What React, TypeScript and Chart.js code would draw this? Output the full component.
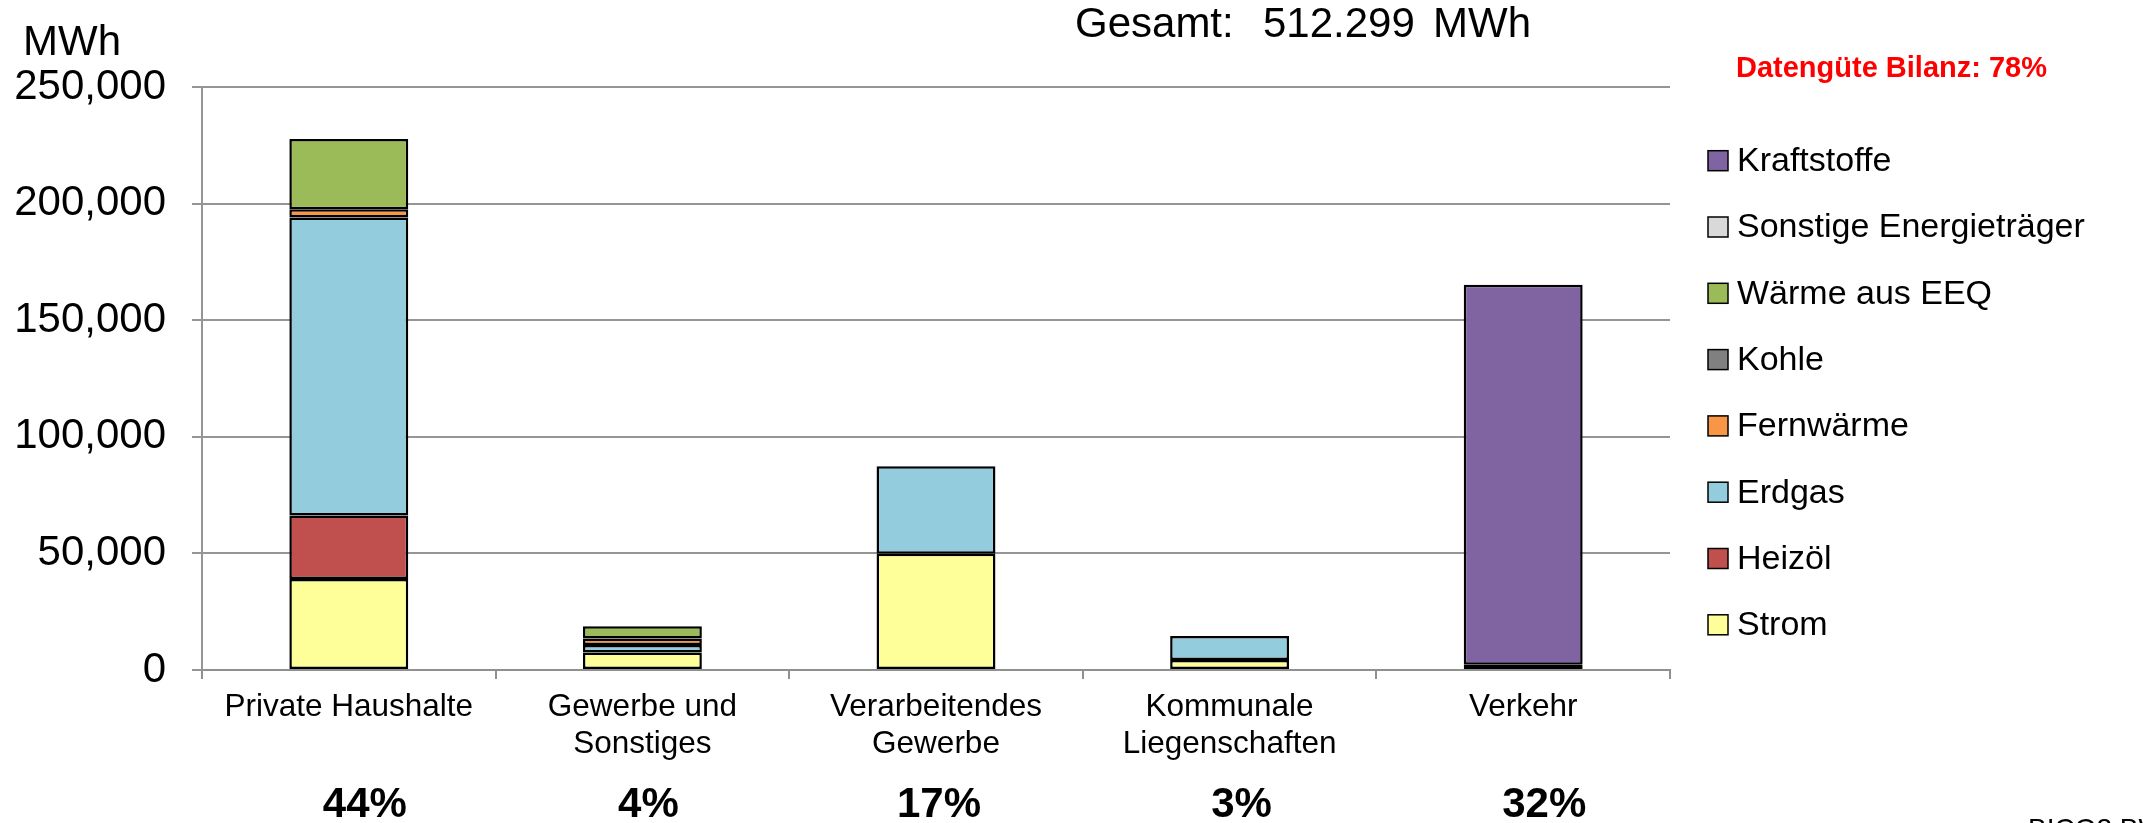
import React, { useEffect, useRef } from "react";
import { Chart, registerables } from "chart.js";

Chart.register(...registerables);

const categories: (string | string[])[] = [
  "Private Haushalte",
  ["Gewerbe und", "Sonstiges"],
  ["Verarbeitendes", "Gewerbe"],
  ["Kommunale", "Liegenschaften"],
  "Verkehr",
];
const percentLabels = ["44%", "4%", "17%", "3%", "32%"];

const strom = [39000, 7500, 49900, 4300, 2200];
const heizoel = [27200, null, null, null, null];
const erdgas = [127800, 3200, 37500, 10300, null];
const fernwaerme = [3600, 2800, null, null, null];
const kohle = [null, null, null, null, null];
const waermeEEQ = [30100, 5300, null, null, null];
const sonstige = [null, null, null, null, null];
const kraftstoffe = [null, null, null, null, 163000];

const yTicksMax = 250000;
const yTicksStep = 50000;

const FONT = "'Liberation Sans', Arial, Helvetica, sans-serif";

const seriesDefs = [
  { label: "Strom", data: strom, color: "#FFFF99" },
  { label: "Heizöl", data: heizoel, color: "#C0504D" },
  { label: "Erdgas", data: erdgas, color: "#93CDDD" },
  { label: "Fernwärme", data: fernwaerme, color: "#F79646" },
  { label: "Kohle", data: kohle, color: "#808080" },
  { label: "Wärme aus EEQ", data: waermeEEQ, color: "#9BBB59" },
  { label: "Sonstige Energieträger", data: sonstige, color: "#D9D9D9" },
  { label: "Kraftstoffe", data: kraftstoffe, color: "#8064A2" },
];

// horizontal nudge of the percentage text boxes relative to category centres
const percentNudge = [16, 6, 3, 12, 21];

const overlayPlugin = {
  id: "overlay",
  afterDraw(chart: any) {
    const ctx = chart.ctx as CanvasRenderingContext2D;
    ctx.save();
    ctx.fillStyle = "#000";
    ctx.textBaseline = "alphabetic";
    ctx.textAlign = "left";
    ctx.font = `42px ${FONT}`;
    ctx.fillText("MWh", 23, 55);
    ctx.fillText("Gesamt:", 1075, 37);
    ctx.fillText("512.299", 1263, 37);
    ctx.fillText("MWh", 1433, 37);

    ctx.fillStyle = "#FF0000";
    ctx.font = `bold 29px ${FONT}`;
    ctx.fillText("Datengüte Bilanz: 78%", 1736, 77);

    const legendItems = [...seriesDefs].reverse();
    ctx.font = `34px ${FONT}`;
    ctx.textBaseline = "middle";
    legendItems.forEach((s, i) => {
      const cy = 160.7 + i * 66.3;
      ctx.fillStyle = s.color;
      ctx.fillRect(1708, cy - 10, 20, 20);
      ctx.strokeStyle = "#000";
      ctx.lineWidth = 1.5;
      ctx.strokeRect(1708, cy - 10, 20, 20);
      ctx.fillStyle = "#000";
      ctx.fillText(s.label, 1737, cy + 1);
    });

    const xScale = chart.scales.x;
    ctx.font = `bold 42px ${FONT}`;
    ctx.textAlign = "center";
    ctx.textBaseline = "alphabetic";
    percentLabels.forEach((p, i) => {
      ctx.fillText(p, xScale.getPixelForValue(i) + percentNudge[i], 817);
    });

    ctx.textAlign = "left";
    ctx.font = `28px ${FONT}`;
    ctx.fillText("BICO2 BW", 2028, 838);
    ctx.restore();
  },
};

export default function App() {
  const canvasRef = useRef<HTMLCanvasElement | null>(null);

  useEffect(() => {
    const canvas = canvasRef.current;
    if (!canvas) return;
    const chart = new Chart(canvas, {
      type: "bar",
      data: {
        labels: categories,
        datasets: seriesDefs.map((s) => ({
          label: s.label,
          data: s.data,
          backgroundColor: s.color,
          borderColor: "#000",
          borderWidth: 2.5,
          borderSkipped: false,
          barPercentage: 0.405,
          categoryPercentage: 1,
        })),
      },
      options: {
        responsive: false,
        animation: false,
        layout: { padding: { top: 87, right: 473, left: 0, bottom: 0 } },
        plugins: {
          legend: { display: false },
          tooltip: { enabled: false },
          title: { display: false },
        },
        scales: {
          x: {
            stacked: true,
            afterFit: (scale: any) => {
              scale.height = 823 - 87 - 583;
            },
            grid: {
              display: true,
              drawOnChartArea: false,
              drawTicks: true,
              tickLength: 9,
              color: "#909090",
              lineWidth: 2,
              offset: true,
            },
            border: { display: true, color: "#909090", width: 2 },
            ticks: {
              color: "#000",
              font: { family: FONT, size: 31.5, lineHeight: 1.18 },
              padding: 10,
              maxRotation: 0,
              autoSkip: false,
            },
          },
          y: {
            stacked: true,
            min: 0,
            max: yTicksMax,
            afterFit: (scale: any) => {
              scale.width = 202;
            },
            grid: {
              color: "#959595",
              lineWidth: 2,
              drawTicks: true,
              tickLength: 10,
            },
            border: { display: true, color: "#959595", width: 2 },
            ticks: {
              stepSize: yTicksStep,
              color: "#000",
              font: { family: FONT, size: 42 },
              padding: 26,
              callback: (v: any) => Number(v).toLocaleString("en-US"),
            },
          },
        },
      },
      plugins: [overlayPlugin],
    });
    return () => chart.destroy();
  }, []);

  return (
    <div
      style={{
        position: "fixed",
        left: 0,
        top: 0,
        width: 2143,
        height: 823,
        background: "#fff",
      }}
    >
      <canvas
        ref={canvasRef}
        width={2143}
        height={823}
        style={{ width: 2143, height: 823, display: "block" }}
      />
    </div>
  );
}
